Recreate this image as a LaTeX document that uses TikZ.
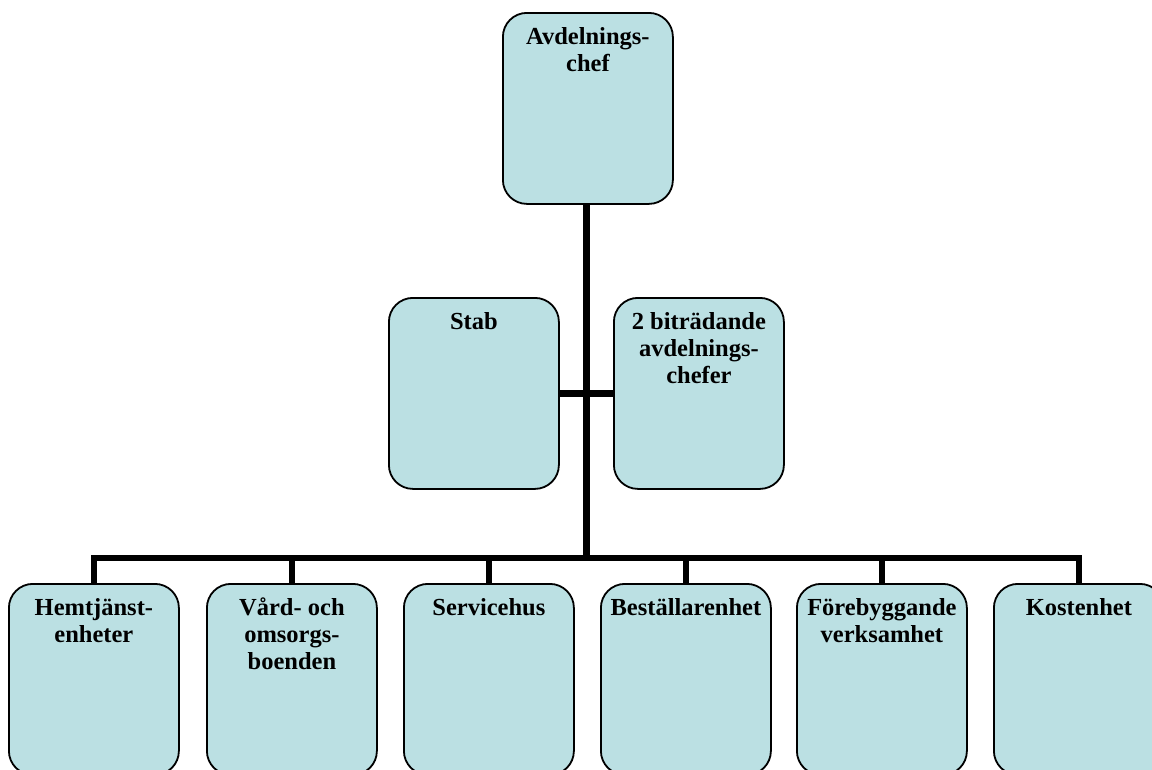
\documentclass[tikz,border=0pt]{standalone}
\usepackage{fontspec}
\setmainfont{Liberation Serif}
\definecolor{boxfill}{RGB}{187,224,227}
\begin{document}
\begin{tikzpicture}[x=1pt,y=-1pt,
  orgbox/.style={draw=black,line width=1.8pt,fill=boxfill,rounded corners=24pt,minimum width=170pt,minimum height=191pt,inner sep=0pt,anchor=north west},
  orgtext/.style={anchor=north,inner sep=0pt,align=center,font=\fontsize{24.5}{27}\selectfont\bfseries},
  link/.style={line width=6.5pt,line join=miter}]
\useasboundingbox (0,0) rectangle (1152,769);
% boxes
\node[orgbox] (chief) at (502,12) {};
\node[orgbox] (stab) at (388,297) {};
\node[orgbox] (bitr) at (613,297) {};
\node[orgbox] (b1) at (8,583) {};
\node[orgbox] (b2) at (206,583) {};
\node[orgbox] (b3) at (403,583) {};
\node[orgbox] (b4) at (600,583) {};
\node[orgbox] (b5) at (796,583) {};
\node[orgbox] (b6) at (993,583) {};
% connectors
\coordinate (busy) at (0,558);
\draw[link] ([xshift=-1.5pt]chief.south) -- ([xshift=-1.5pt]chief.south |- busy);
\draw[link] (stab.east) -- (bitr.west);
\draw[link] (b1.north) -- (b1.north |- busy) -- (b6.north |- busy) -- (b6.north);
\draw[link] (b2.north |- busy) -- (b2.north);
\draw[link] (b3.north |- busy) -- (b3.north);
\draw[link] (b4.north |- busy) -- (b4.north);
\draw[link] (b5.north |- busy) -- (b5.north);
% texts
\node[orgtext] (chiefT) at ([yshift=-13.5pt]chief.north) {\strut Avdelnings-\\\strut chef};
\node[orgtext] (stabT) at ([yshift=-13.5pt]stab.north) {\strut Stab};
\node[orgtext] (bitrT) at ([yshift=-13.5pt]bitr.north) {\strut 2 biträdande\\\strut avdelnings-\\\strut chefer};
\node[orgtext] (b1T) at ([yshift=-13.5pt]b1.north) {\strut Hemtjänst-\\\strut enheter};
\node[orgtext] (b2T) at ([yshift=-13.5pt]b2.north) {\strut Vård- och\\\strut omsorgs-\\\strut boenden};
\node[orgtext] (b3T) at ([yshift=-13.5pt]b3.north) {\strut Servicehus};
\node[orgtext] (b4T) at ([yshift=-13.5pt]b4.north) {\strut Beställarenhet};
\node[orgtext] (b5T) at ([yshift=-13.5pt]b5.north) {\strut Förebyggande\\\strut verksamhet};
\node[orgtext] (b6T) at ([yshift=-13.5pt]b6.north) {\strut Kostenhet};
\end{tikzpicture}
\end{document}
